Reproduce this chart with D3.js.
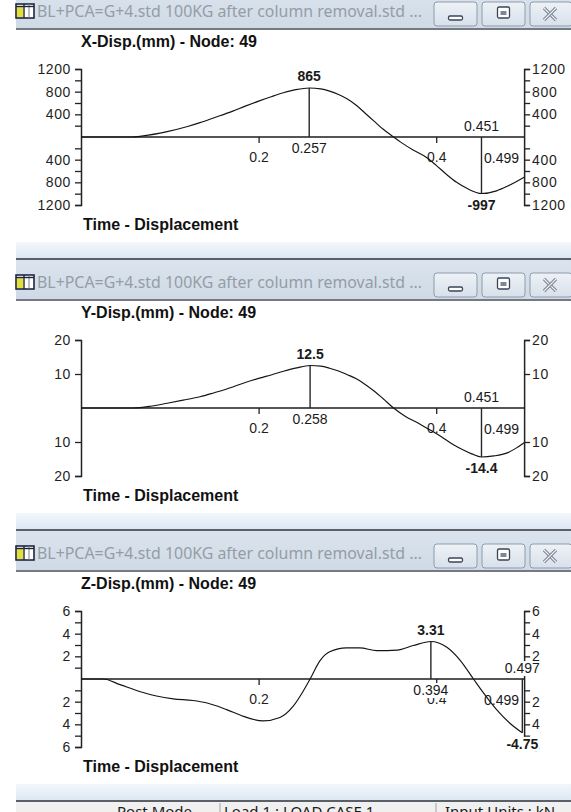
<!DOCTYPE html>
<html><head><meta charset="utf-8">
<script src="https://cdn.jsdelivr.net/npm/d3@7"></script>
<style>
html,body{margin:0;padding:0;background:#fff;overflow:hidden}
svg{display:block}
</style></head><body>
<svg id="c" width="571" height="812"></svg>
<script>
// ---------- data ----------
const windowTitle = "BL+PCA=G+4.std 100KG after column removal.std ...";
const panelTitles = ["X-Disp.(mm) - Node: 49", "Y-Disp.(mm) - Node: 49", "Z-Disp.(mm) - Node: 49"];
const xAxisTitle = "Time - Displacement";
const statusTexts = ["Post Mode", "Load 1 : LOAD CASE 1", "Input Units : kN"];
const timeTicks = [0.2, 0.4];
const timeDomain = [0, 0.5];
const endTime = 0.499;

const timesX = [0, 0.03, 0.055, 0.07, 0.097, 0.12, 0.134, 0.15, 0.171, 0.185, 0.2, 0.215, 0.228, 0.242, 0.257, 0.27, 0.28, 0.29, 0.3, 0.31, 0.32, 0.33, 0.34, 0.352, 0.36, 0.374, 0.39, 0.4, 0.412, 0.423, 0.435, 0.451, 0.468, 0.48, 0.49, 0.499];
const valuesX = [0, 0, 0, 20, 95, 185, 253, 340, 457, 545, 633, 715, 780, 835, 865, 850, 810, 750, 670, 560, 420, 280, 140, 0, -90, -230, -370, -500, -665, -800, -910, -997, -950, -870, -790, -710];

const timesY = [0, 0.03, 0.059, 0.08, 0.097, 0.115, 0.134, 0.15, 0.171, 0.185, 0.2, 0.215, 0.228, 0.243, 0.258, 0.27, 0.28, 0.29, 0.3, 0.31, 0.318, 0.33, 0.34, 0.352, 0.365, 0.38, 0.39, 0.4, 0.41, 0.42, 0.43, 0.44, 0.451, 0.465, 0.48, 0.49, 0.499];
const valuesY = [0, 0, 0, 0.6, 1.4, 2.3, 3.3, 4.5, 6.2, 7.5, 8.7, 9.8, 10.8, 11.8, 12.5, 12.3, 11.7, 10.9, 9.8, 8.6, 7.3, 5.0, 2.8, 0, -2.4, -4.5, -6.0, -7.5, -9.2, -10.9, -12.3, -13.5, -14.4, -14.1, -13.2, -11.8, -10.2];

const timesZ = [0, 0.025, 0.044, 0.066, 0.085, 0.104, 0.126, 0.141, 0.164, 0.183, 0.205, 0.224, 0.239, 0.25, 0.258, 0.269, 0.28, 0.299, 0.314, 0.333, 0.356, 0.374, 0.394, 0.412, 0.427, 0.442, 0.453, 0.468, 0.483, 0.497];
const valuesZ = [0, 0, -0.5, -1.1, -1.5, -1.75, -1.9, -2.1, -2.7, -3.3, -3.7, -3.4, -2.4, -1.1, 0, 1.6, 2.4, 2.75, 2.75, 2.5, 2.55, 2.95, 3.31, 2.8, 1.65, 0, -1.2, -2.7, -3.9, -4.75];

const domainX = [-1200, 1200];
const majorTicksX = [-1200, -800, -400, 400, 800, 1200];
const minorTicksX = [-1000, -600, -200, 200, 600, 1000];
const domainY = [-20, 20];
const majorTicksY = [-20, -10, 10, 20];
const minorTicksY = [];
const domainZ = [-6, 6];
const majorTicksZ = [-6, -4, -2, 2, 4, 6];
const minorTicksZ = [-5, -3, -1, 1, 3, 5];

// ---------- layout ----------
const W = 571;
const svg = d3.select("#c");
const numFont = "'Liberation Sans', Arial, sans-serif";
const defs = svg.append("defs");
const tb = defs.append("linearGradient").attr("id", "tb").attr("x1", 0).attr("y1", 0).attr("x2", 0).attr("y2", 1);
tb.append("stop").attr("offset", "0").attr("stop-color", "#dbe4ee");
tb.append("stop").attr("offset", "1").attr("stop-color", "#cfdae6");
const band = defs.append("linearGradient").attr("id", "band").attr("x1", 0).attr("y1", 0).attr("x2", 0).attr("y2", 1);
band.append("stop").attr("offset", "0").attr("stop-color", "#f3f7fb");
band.append("stop").attr("offset", "1").attr("stop-color", "#dde8f4");
const btn = defs.append("linearGradient").attr("id", "btn").attr("x1", 0).attr("y1", 0).attr("x2", 0).attr("y2", 1);
btn.append("stop").attr("offset", "0").attr("stop-color", "#eef2f7");
btn.append("stop").attr("offset", "1").attr("stop-color", "#d8e0ea");

svg.append("rect").attr("width", W).attr("height", 812).attr("fill", "#fff");

const xScale = d3.scaleLinear().domain(timeDomain).range([81, 525]);
const panelBase = [-13, 258, 529];
const panels = [
  {title: panelTitles[0], times: timesX, values: valuesX, domain: domainX, major: majorTicksX, minor: minorTicksX},
  {title: panelTitles[1], times: timesY, values: valuesY, domain: domainY, major: majorTicksY, minor: minorTicksY},
  {title: panelTitles[2], times: timesZ, values: valuesZ, domain: domainZ, major: majorTicksZ, minor: minorTicksZ}
];

function labelWithBg(g, x, y, txt, opts) {
  const grp = g.append("g");
  const rect = grp.append("rect").attr("fill", "#fff");
  const t = grp.append("text").attr("x", x).attr("y", y).attr("dy", "0.36em")
    .attr("text-anchor", opts.anchor || "middle")
    .attr("font-family", numFont).attr("font-size", 14)
    .attr("font-weight", opts.bold ? "bold" : "normal")
    .attr("fill", "#1a1a1a").text(txt);
  if (opts.spacing) t.attr("letter-spacing", opts.spacing);
  if (opts.bg) {
    const bb = t.node().getBBox();
    rect.attr("x", bb.x - 1).attr("y", bb.y + 1).attr("width", bb.width + 2).attr("height", bb.height - 1);
  } else rect.remove();
  return t;
}

panels.forEach((p, i) => {
  const B = panelBase[i];
  const nextB = i < 2 ? panelBase[i + 1] : 800;
  const g = svg.append("g");

  // window title bar
  g.append("rect").attr("x", 16).attr("y", B).attr("width", W - 16).attr("height", 42).attr("fill", "url(#tb)");
  g.append("rect").attr("x", 16).attr("y", B).attr("width", W - 16).attr("height", 2).attr("fill", "#5b6066");
  g.append("rect").attr("x", 16).attr("y", B + 41).attr("width", W - 16).attr("height", 2).attr("fill", "#737a82");
  // icon
  const ic = g.append("g");
  ic.append("rect").attr("x", 16).attr("y", B + 17).attr("width", 18).attr("height", 14).attr("fill", "#fff").attr("stroke", "#1d2640").attr("stroke-width", 1.6);
  ic.append("rect").attr("x", 17).attr("y", B + 20).attr("width", 6).attr("height", 10).attr("fill", "#e4df35");
  ic.append("line").attr("x1", 24).attr("x2", 24).attr("y1", B + 17).attr("y2", B + 31).attr("stroke", "#1d2640").attr("stroke-width", 1.4);
  ic.append("line").attr("x1", 29).attr("x2", 29).attr("y1", B + 17).attr("y2", B + 31).attr("stroke", "#7a8090").attr("stroke-width", 1);
  ic.append("line").attr("x1", 16).attr("x2", 34).attr("y1", B + 19.5).attr("y2", B + 19.5).attr("stroke", "#1d2640").attr("stroke-width", 1.4);
  g.append("text").attr("x", 37).attr("y", B + 24).attr("dy", "0.36em")
    .attr("font-family", "'Noto Sans', 'Open Sans', sans-serif").attr("font-size", 17)
    .attr("fill", "#959ca5").attr("textLength", 385).attr("lengthAdjust", "spacingAndGlyphs")
    .text(windowTitle);
  // buttons
  const btns = [[434, 43], [482, 43], [530, 42]];
  btns.forEach(([bx, bw], k) => {
    g.append("rect").attr("x", bx).attr("y", B + 15).attr("width", bw).attr("height", 24).attr("rx", 3)
      .attr("fill", "url(#btn)").attr("stroke", "#8e9bad").attr("stroke-width", 1);
    const cx = bx + bw / 2;
    if (k === 0) {
      g.append("rect").attr("x", cx - 7).attr("y", B + 29).attr("width", 14).attr("height", 4).attr("rx", 1.5)
        .attr("fill", "#fff").attr("stroke", "#3a4556").attr("stroke-width", 1.3);
    } else if (k === 1) {
      g.append("rect").attr("x", cx - 6).attr("y", B + 20).attr("width", 12).attr("height", 11).attr("rx", 1.5)
        .attr("fill", "#fff").attr("stroke", "#3a4556").attr("stroke-width", 1.3);
      g.append("rect").attr("x", cx - 3).attr("y", B + 24).attr("width", 6).attr("height", 4)
        .attr("fill", "#7d8796");
    } else {
      [[-6, -6, 6, 6], [-6, 6, 6, -6]].forEach(([a, b, c, d]) => {
        g.append("line").attr("x1", cx + a - 1).attr("y1", B + 27 + b).attr("x2", cx + c - 1).attr("y2", B + 27 + d)
          .attr("stroke", "#7c8694").attr("stroke-width", 3.2);
        g.append("line").attr("x1", cx + a - 1).attr("y1", B + 27 + b).attr("x2", cx + c - 1).attr("y2", B + 27 + d)
          .attr("stroke", "#eef2f6").attr("stroke-width", 1.1);
      });
    }
  });

  // chart header
  g.append("text").attr("x", 81).attr("y", B + 54).attr("dy", "0.36em")
    .attr("font-family", numFont).attr("font-size", 16).attr("font-weight", "bold").attr("fill", "#111")
    .text(p.title);

  const y = d3.scaleLinear().domain(p.domain).range([B + 218, B + 82]);
  const y0 = y(0);
  const xL = xScale(0), xR = xScale(endTime);
  const allTicks = p.major.concat(p.minor).sort((a, b) => a - b);
  const fmt = d => p.major.includes(d) ? String(Math.abs(d)) : "";

  const styleAxis = ax => {
    ax.selectAll("path.domain").attr("stroke", "#222").attr("stroke-width", 1.5);
    ax.selectAll(".tick line").attr("stroke", "#222").attr("stroke-width", 1.3);
    ax.selectAll(".tick text").attr("font-family", numFont).attr("font-size", 14)
      .attr("letter-spacing", "0.6px").attr("fill", "#1f1f1f");
  };
  const axL = g.append("g").attr("transform", `translate(${xL},0)`)
    .call(d3.axisLeft(y).tickValues(allTicks).tickFormat(fmt).tickSize(6).tickSizeOuter(6).tickPadding(4));
  styleAxis(axL);
  const axR = g.append("g").attr("transform", `translate(${xR},0)`)
    .call(d3.axisRight(y).tickValues(allTicks).tickFormat(fmt).tickSize(6).tickSizeOuter(6).tickPadding(2));
  styleAxis(axR);

  // zero line
  g.append("line").attr("x1", xL).attr("x2", xR).attr("y1", y0).attr("y2", y0)
    .attr("stroke", "#1c1c1c").attr("stroke-width", 1.6);
  // time ticks
  const axT = g.append("g").attr("transform", `translate(0,${y0})`)
    .call(d3.axisBottom(xScale).tickValues(timeTicks).tickFormat(d => String(d)).tickSize(6).tickPadding(9));
  axT.select("path.domain").remove();
  styleAxis(axT);
  axT.selectAll(".tick text").attr("letter-spacing", null);

  // extremes
  const iMax = d3.maxIndex(p.values), iMin = d3.minIndex(p.values);
  const tMax = p.times[iMax], vMax = p.values[iMax];
  const tMin = p.times[iMin], vMin = p.values[iMin];

  // cursor time labels (white background)
  labelWithBg(g, xScale(tMax), y0 + 11, String(tMax), {bg: true});
  labelWithBg(g, xScale(tMin), y0 - 11, String(tMin), {bg: true});

  // curve
  const line = d3.line().x((d, k) => xScale(p.times[k])).y(d => y(d)).curve(d3.curveMonotoneX);
  g.append("path").datum(p.values).attr("d", line).attr("fill", "none")
    .attr("stroke", "#141414").attr("stroke-width", 1.15);

  // cursor lines
  [[tMax, vMax], [tMin, vMin]].forEach(([t, v]) => {
    g.append("line").attr("x1", xScale(t)).attr("x2", xScale(t)).attr("y1", y0).attr("y2", y(v))
      .attr("stroke", "#262626").attr("stroke-width", 1.4);
  });
  // value labels
  labelWithBg(g, xScale(tMax), y(vMax) - 12, String(vMax), {bold: true, bg: true});
  labelWithBg(g, xScale(tMin), y(vMin) + 11, String(vMin), {bold: true, bg: true});
  // end-time label
  labelWithBg(g, xR - 5, y0 + 21, String(endTime), {anchor: "end"});

  // x-axis title
  g.append("text").attr("x", 83).attr("y", B + 237).attr("dy", "0.36em")
    .attr("font-family", numFont).attr("font-size", 16).attr("font-weight", "bold").attr("fill", "#111")
    .text(xAxisTitle);

  // pale frame band under window
  g.append("rect").attr("x", 16).attr("y", B + 255).attr("width", W - 16).attr("height", nextB - (B + 255))
    .attr("fill", "url(#band)");
});

// status bar
svg.append("rect").attr("x", 16).attr("y", 800).attr("width", W - 16).attr("height", 2).attr("fill", "#5b6066");
svg.append("rect").attr("x", 16).attr("y", 802).attr("width", W - 16).attr("height", 10).attr("fill", "#f0f0f0");
const statusX = [117, 224, 445];
const sepX = [220, 436];
sepX.forEach(sx => svg.append("line").attr("x1", sx).attr("x2", sx).attr("y1", 803).attr("y2", 812).attr("stroke", "#a0a0a0"));
statusTexts.forEach((s, k) => {
  svg.append("text").attr("x", statusX[k]).attr("y", 817)
    .attr("font-family", "'Noto Sans', sans-serif").attr("font-size", 15).attr("fill", "#1a1a1a").text(s);
});
</script>
</body></html>
